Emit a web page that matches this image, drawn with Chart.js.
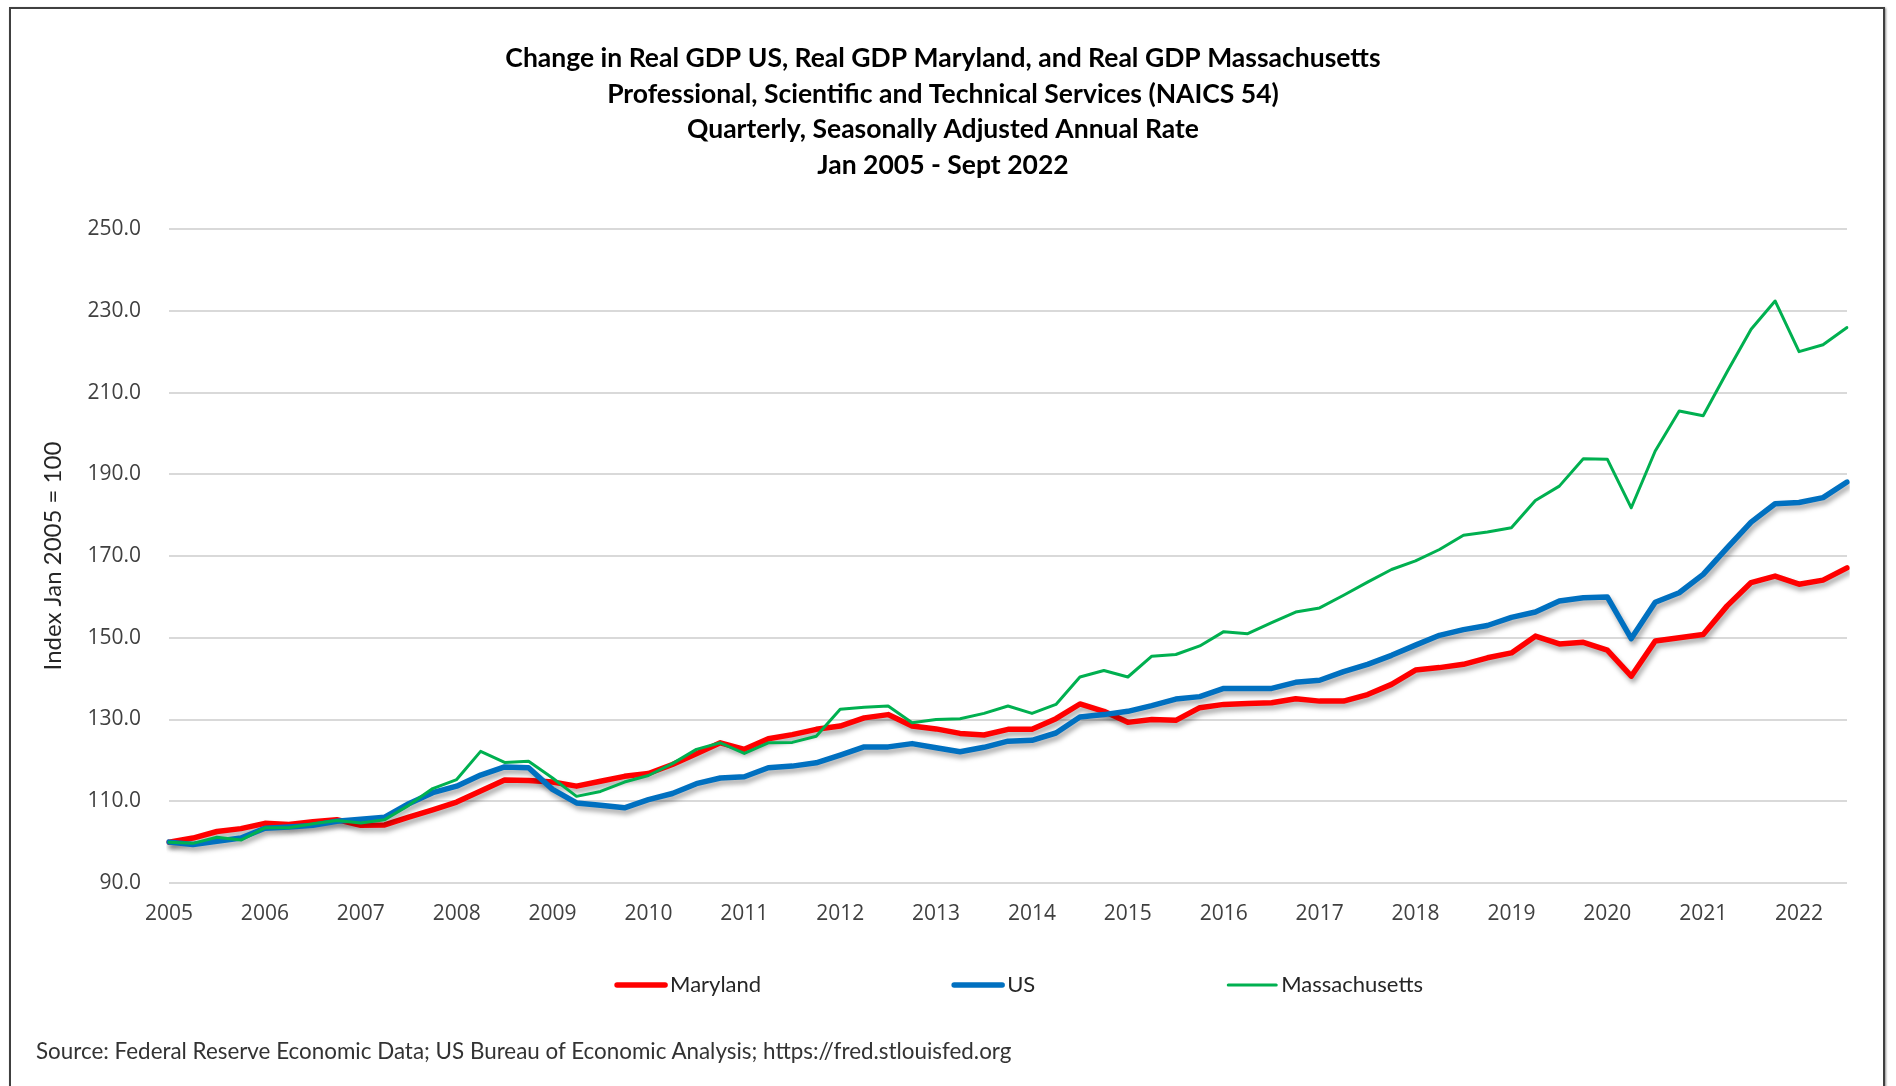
<!DOCTYPE html>
<html>
<head>
<meta charset="utf-8">
<title>Change in Real GDP - NAICS 54</title>
<script src="https://cdn.jsdelivr.net/npm/chart.js@4.4.1/dist/chart.umd.min.js"></script>
<style>
  html, body { margin: 0; padding: 0; background: #fff; overflow: hidden; }
  #wrap { position: relative; width: 1896px; height: 1086px; }
  #frame {
    position: absolute; left: 9px; top: 7px; width: 1872px; height: 1100px;
    border: 2px solid #404040; box-shadow: 1px 1px 2px rgba(0, 0, 0, 0.45);
    pointer-events: none;
  }
  #source {
    position: absolute; left: 36px; top: 1037px;
    font: 22.4px Lato, sans-serif; color: #333;
  }
</style>
</head>
<body>
<div id="wrap">
  <canvas id="myChart" width="1896" height="1086"></canvas>
  <div id="frame"></div>
  <div id="source">Source: Federal Reserve Economic Data; US Bureau of Economic Analysis; https://fred.stlouisfed.org</div>
</div>
<script>
// quarterly, 2005 Q1 - 2022 Q3, index Jan 2005 = 100
const years = ["2005", "2006", "2007", "2008", "2009", "2010", "2011", "2012", "2013",
  "2014", "2015", "2016", "2017", "2018", "2019", "2020", "2021", "2022"];

const maryland = [
  100.0, 101.0, 102.6, 103.3, 104.6, 104.3, 105.0, 105.5, 104.1, 104.2,
  106.1, 107.9, 109.8, 112.5, 115.2, 115.1, 114.7, 113.7, 114.9, 116.1,
  116.8, 119.0, 121.6, 124.3, 122.7, 125.3, 126.3, 127.6, 128.4, 130.4,
  131.2, 128.4, 127.7, 126.6, 126.2, 127.6, 127.6, 130.2, 133.8, 132.0,
  129.3, 130.0, 129.8, 132.9, 133.7, 133.9, 134.1, 135.1, 134.5, 134.5,
  136.1, 138.6, 142.1, 142.7, 143.5, 145.1, 146.3, 150.4, 148.5, 148.9,
  147.0, 140.6, 149.2, 150.0, 150.8, 157.8, 163.5, 165.1, 163.1, 164.1,
  167.1
];
const us = [
  100.0, 99.4, 100.2, 101.0, 103.4, 103.7, 104.1, 105.1, 105.6, 106.1,
  109.4, 112.1, 113.7, 116.4, 118.4, 118.2, 112.9, 109.6, 109.0, 108.4,
  110.4, 111.9, 114.3, 115.7, 116.0, 118.2, 118.6, 119.4, 121.3, 123.3,
  123.3, 124.1, 123.1, 122.1, 123.2, 124.7, 124.9, 126.7, 130.6, 131.2,
  132.0, 133.4, 135.0, 135.6, 137.6, 137.6, 137.6, 139.1, 139.6, 141.7,
  143.5, 145.7, 148.2, 150.6, 152.0, 153.0, 155.0, 156.3, 159.0, 159.8,
  160.0, 149.8, 158.7, 161.0, 165.5, 172.0, 178.3, 182.8, 183.1, 184.3,
  188.1
];
const massachusetts = [
  100.0, 99.7, 101.2, 100.5, 103.5, 103.5, 104.5, 105.3, 104.7, 105.5,
  109.0, 113.1, 115.3, 122.2, 119.5, 119.8, 115.7, 111.2, 112.4, 114.7,
  116.3, 119.2, 122.7, 124.3, 121.7, 124.3, 124.4, 125.9, 132.5, 133.0,
  133.3, 129.2, 130.0, 130.2, 131.5, 133.3, 131.5, 133.7, 140.4, 142.0,
  140.4, 145.5, 145.9, 148.0, 151.5, 151.0, 153.7, 156.3, 157.3, 160.4,
  163.6, 166.7, 168.8, 171.6, 175.1, 175.9, 176.9, 183.6, 187.1, 193.8,
  193.7, 181.8, 195.7, 205.5, 204.3, 215.1, 225.5, 232.4, 220.0, 221.7,
  225.9
];

const quarters = years
  .flatMap((y) => ["Q1", "Q2", "Q3", "Q4"].map((q) => y + " " + q))
  .slice(0, maryland.length);

const tickFont = { family: "'Open Sans', sans-serif", size: 21 };
const textFont = "Lato, sans-serif";

// Excel-style soft shadow under the two thick lines
const lineShadow = {
  id: "lineShadow",
  beforeDatasetDraw(chart, args) {
    if (!chart.data.datasets[args.index].shadow) return;
    const c = chart.ctx;
    c.save();
    c.shadowColor = "rgba(0, 0, 0, 0.35)";
    c.shadowBlur = 5;
    c.shadowOffsetX = 2;
    c.shadowOffsetY = 4;
  },
  afterDatasetDraw(chart, args) {
    if (!chart.data.datasets[args.index].shadow) return;
    chart.ctx.restore();
  },
};

// legend row with wide gaps, as in the original
const legendRow = {
  id: "legendRow",
  afterDraw(chart) {
    const c = chart.ctx;
    const sets = chart.data.datasets;
    const sample = 48, gap = 5, spacing = 193, y = 985;
    c.save();
    c.font = "22px " + textFont;
    const widths = sets.map((ds) => sample + gap + c.measureText(ds.label).width);
    const total = widths.reduce((a, b) => a + b, 0) + spacing * (sets.length - 1);
    let x = 1020 - total / 2;
    sets.forEach((ds, i) => {
      c.strokeStyle = ds.borderColor;
      c.lineWidth = ds.borderWidth;
      c.lineCap = "round";
      c.beginPath();
      c.moveTo(x, y);
      c.lineTo(x + sample, y);
      c.stroke();
      c.fillStyle = "#262626";
      c.textAlign = "left";
      c.textBaseline = "middle";
      c.fillText(ds.label, x + sample + gap, y);
      x += widths[i] + spacing;
    });
    c.restore();
  },
};

const ctx = document.getElementById("myChart");

const myChart = new Chart(ctx, {
  type: "line",
  data: {
    labels: quarters,
    datasets: [
      {
        label: "Maryland",
        data: maryland,
        borderColor: "#ff0000",
        backgroundColor: "#ff0000",
        borderWidth: 5.5,
        shadow: true,
        order: 2,
      },
      {
        label: "US",
        data: us,
        borderColor: "#0070c0",
        backgroundColor: "#0070c0",
        borderWidth: 5.5,
        shadow: true,
        order: 1,
      },
      {
        label: "Massachusetts",
        data: massachusetts,
        borderColor: "#00b050",
        backgroundColor: "#00b050",
        borderWidth: 3,
        order: 0,
      },
    ],
  },
  options: {
    responsive: false,
    animation: false,
    layout: { padding: { left: 39, right: 49, top: 0, bottom: 153 } },
    elements: {
      point: { radius: 0, hoverRadius: 0 },
      line: { tension: 0, borderJoinStyle: "round", borderCapStyle: "round" },
    },
    plugins: {
      legend: { display: false },
      tooltip: { enabled: false },
      title: {
        display: true,
        text: [
          "Change in Real GDP US, Real GDP Maryland, and Real GDP Massachusetts",
          "Professional, Scientific and Technical Services (NAICS 54)",
          "Quarterly, Seasonally Adjusted Annual Rate",
          "Jan 2005 - Sept 2022",
        ],
        color: "#000",
        font: { family: textFont, size: 26.5, weight: "bold", lineHeight: 1.34 },
        padding: { top: 41, bottom: 46 },
      },
    },
    scales: {
      x: {
        grid: { display: false, drawTicks: false },
        border: { display: false },
        ticks: {
          autoSkip: false,
          maxRotation: 0,
          padding: 18,
          color: "#404040",
          font: tickFont,
          callback: function (value) {
            const lbl = this.getLabelForValue(value);
            return lbl.endsWith("Q1") ? lbl.slice(0, 4) : "";
          },
        },
        afterFit: (scale) => { scale.height = 50; },
      },
      y: {
        min: 90,
        max: 250,
        grid: { color: "#d9d9d9", lineWidth: 2, drawTicks: false },
        border: { display: false },
        ticks: {
          stepSize: 20,
          padding: 28,
          color: "#404040",
          font: tickFont,
          callback: (v) => v.toFixed(1),
        },
        title: {
          display: true,
          text: "Index Jan 2005 = 100",
          color: "#262626",
          font: { family: textFont, size: 24 },
          padding: { top: 0, bottom: 0 },
        },
        afterFit: (scale) => { scale.width = 130; },
      },
    },
  },
  plugins: [lineShadow, legendRow],
});
</script>
</body>
</html>
